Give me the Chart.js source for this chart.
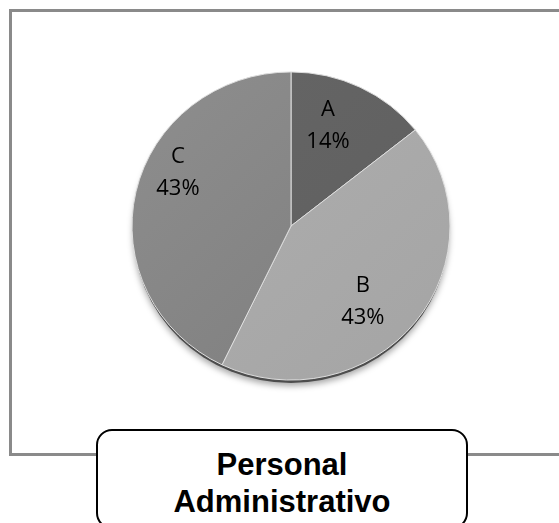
<!DOCTYPE html>
<html>
<head>
<meta charset="utf-8">
<script src="https://cdn.jsdelivr.net/npm/chart.js@4/dist/chart.umd.min.js"></script>
<style>
  html, body { margin: 0; padding: 0; background: #fff; width: 559px; height: 523px; overflow: hidden; }
  #frame { position: absolute; left: 9px; top: 9px; width: 600px; height: 441px; border: 3px solid #8a8a8a; box-sizing: content-box; }
  #wrap { position: absolute; left: 0; top: 0; width: 559px; height: 523px; }
  #titlebox { position: absolute; left: 96px; top: 429px; width: 372px; height: 100px; border: 2px solid #000; border-radius: 16px; background: #fff;
    font-family: "Liberation Sans", Arial, sans-serif; font-weight: bold; font-size: 31px; line-height: 37px; text-align: center; color: #000; box-sizing: border-box; padding-top: 15px; }
</style>
</head>
<body>
<div id="frame"></div>
<div id="wrap"><canvas id="c" width="559" height="523"></canvas></div>
<div id="titlebox">Personal<br>Administrativo</div>
<script>
const categories = ["A", "B", "C"];
const values = [14.3, 42.9, 42.9];
const percentLabels = ["14%", "43%", "43%"];
const sliceColors = [["#666666", "#5e5e5e"], ["#b0b0b0", "#a4a4a4"], ["#8e8e8e", "#7c7c7c"]];
const TILT = 0.969;

function grad(ctx, chart, i) {
  const area = chart.chartArea;
  if (!area) return sliceColors[i][0];
  const cx = (area.left + area.right) / 2, cy = (area.top + area.bottom) / 2, r = 159;
  const g = ctx.createLinearGradient(cx - r, cy - r, cx + r, cy + r);
  g.addColorStop(0, sliceColors[i][0]);
  g.addColorStop(1, sliceColors[i][1]);
  return g;
}

const tiltPlugin = {
  id: 'pieTilt',
  beforeDatasetsDraw(chart) {
    const arc = chart.getDatasetMeta(0).data[0];
    if (!arc) return;
    const { x, y, outerRadius } = arc.getProps(['x', 'y', 'outerRadius'], true);
    const ctx = chart.ctx;
    ctx.save();
    ctx.translate(x, y);
    ctx.scale(1, TILT);
    ctx.translate(-x, -y);
    // soft drop shadow / rim under the pie
    ctx.save();
    ctx.shadowColor = 'rgba(0,0,0,0.35)';
    ctx.shadowBlur = 6;
    ctx.shadowOffsetY = 3;
    ctx.fillStyle = '#4d4d4d';
    ctx.beginPath();
    ctx.arc(x, y + 4, outerRadius - 1, 0, Math.PI * 2);
    ctx.fill();
    ctx.restore();
  },
  afterDatasetsDraw(chart) {
    chart.ctx.restore();
  }
};

const labelPlugin = {
  id: 'sliceLabels',
  afterDatasetsDraw(chart, args, opts) {
    const meta = chart.getDatasetMeta(0);
    const ctx = chart.ctx;
    ctx.save();
    ctx.font = '22px "Open Sans", sans-serif';
    ctx.fillStyle = '#000';
    ctx.textAlign = 'center';
    ctx.textBaseline = 'middle';
    meta.data.forEach((arc, i) => {
      const p = arc.getProps(['x', 'y', 'startAngle', 'endAngle', 'outerRadius'], true);
      const mid = (p.startAngle + p.endAngle) / 2 + opts.angleNudge[i] * Math.PI / 180;
      const d = p.outerRadius * opts.radial[i];
      const lx = p.x + Math.cos(mid) * d;
      const ly = p.y + Math.sin(mid) * d * TILT;
      ctx.fillText(categories[i], lx, ly - 16);
      ctx.fillText(percentLabels[i], lx, ly + 16);
    });
    ctx.restore();
  }
};

new Chart(document.getElementById('c'), {
  type: 'pie',
  data: {
    labels: categories,
    datasets: [{
      data: values,
      backgroundColor: (c) => grad(c.chart.ctx, c.chart, c.dataIndex),
      borderColor: '#dedede',
      borderWidth: 1,
      hoverOffset: 0,
      offset: 0
    }]
  },
  options: {
    responsive: false,
    animation: false,
    radius: 159,
    layout: { padding: { left: 23, right: 0, top: 0, bottom: 71 } },
    plugins: {
      legend: { display: false },
      tooltip: { enabled: false },
      title: { display: false },
      sliceLabels: { angleNudge: [-6, 9, 13], radial: [0.69, 0.67, 0.79] }
    }
  },
  plugins: [tiltPlugin, labelPlugin]
});
</script>
</body>
</html>
